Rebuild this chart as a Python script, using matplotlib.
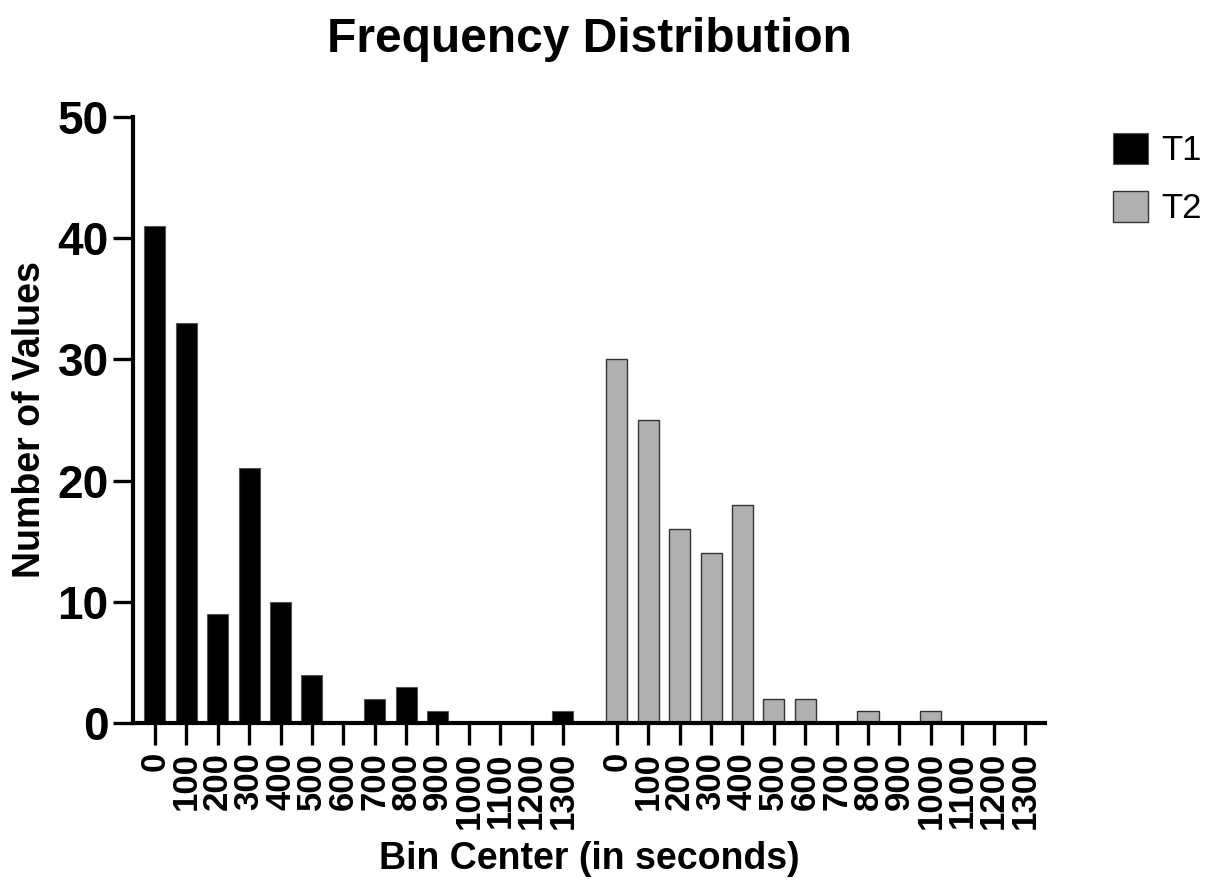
import numpy as np
import matplotlib.pyplot as plt

plt.rcParams['font.family'] = ['Liberation Sans', 'DejaVu Sans']

bin_labels = ['0', '100', '200', '300', '400', '500', '600', '700',
              '800', '900', '1000', '1100', '1200', '1300']
t1_counts = [41, 33, 9, 21, 10, 4, 0, 2, 3, 1, 0, 0, 0, 1]
t2_counts = [30, 25, 16, 14, 18, 2, 2, 0, 1, 0, 1, 0, 0, 0]

n = len(bin_labels)
gap = 1.72
x1 = np.arange(n)
x2 = np.arange(n) + n - 1 + gap

fig = plt.figure(figsize=(12.23, 8.84), dpi=100)
ax = fig.add_axes([133 / 1223, 1 - 723 / 884, (1045 - 133) / 1223, (723 - 117) / 884])

width = 0.67
ax.bar(x1, t1_counts, width=width, color='black', edgecolor='#555555', linewidth=0.8, label='T1')
ax.bar(x2, t2_counts, width=width, color='#b0b0b0', edgecolor='#333333', linewidth=1.0, label='T2')

ax.set_xlim(-0.7, x2[-1] + 0.64)
ax.set_ylim(0, 50)
ax.set_yticks(np.arange(0, 51, 10))

ax.set_xticks(np.concatenate([x1, x2]))
ax.set_xticklabels(bin_labels + bin_labels, rotation=90, fontsize=25, fontweight='bold',
                   va='top', ha='center')
for lab in ax.get_yticklabels():
    lab.set_fontsize(33)
    lab.set_fontweight('bold')

for side in ['top', 'right']:
    ax.spines[side].set_visible(False)
for side in ['left', 'bottom']:
    ax.spines[side].set_linewidth(3)
ax.tick_params(axis='y', length=14.5, width=2.4, pad=3)
ax.tick_params(axis='x', length=16, width=2.4, pad=5)

ax.set_title('Frequency Distribution', fontsize=34.5, fontweight='bold', pad=47)
ax.set_ylabel('Number of Values', fontsize=27, fontweight='bold', va='center')
ax.yaxis.set_label_coords(-0.113, 0.5)
ax.set_xlabel('Bin Center (in seconds)', fontsize=27, fontweight='bold', va='top')
ax.xaxis.set_label_coords(0.5, -0.195)

ax.legend(loc='upper left', bbox_to_anchor=(1113 / 1223, 1 - 133 / 884),
          bbox_transform=fig.transFigure, frameon=False, fontsize=25,
          handlelength=1.0, handleheight=1.0, handletextpad=0.4,
          labelspacing=0.68, borderpad=0, borderaxespad=0)

fig.savefig('out.png', dpi=100)
